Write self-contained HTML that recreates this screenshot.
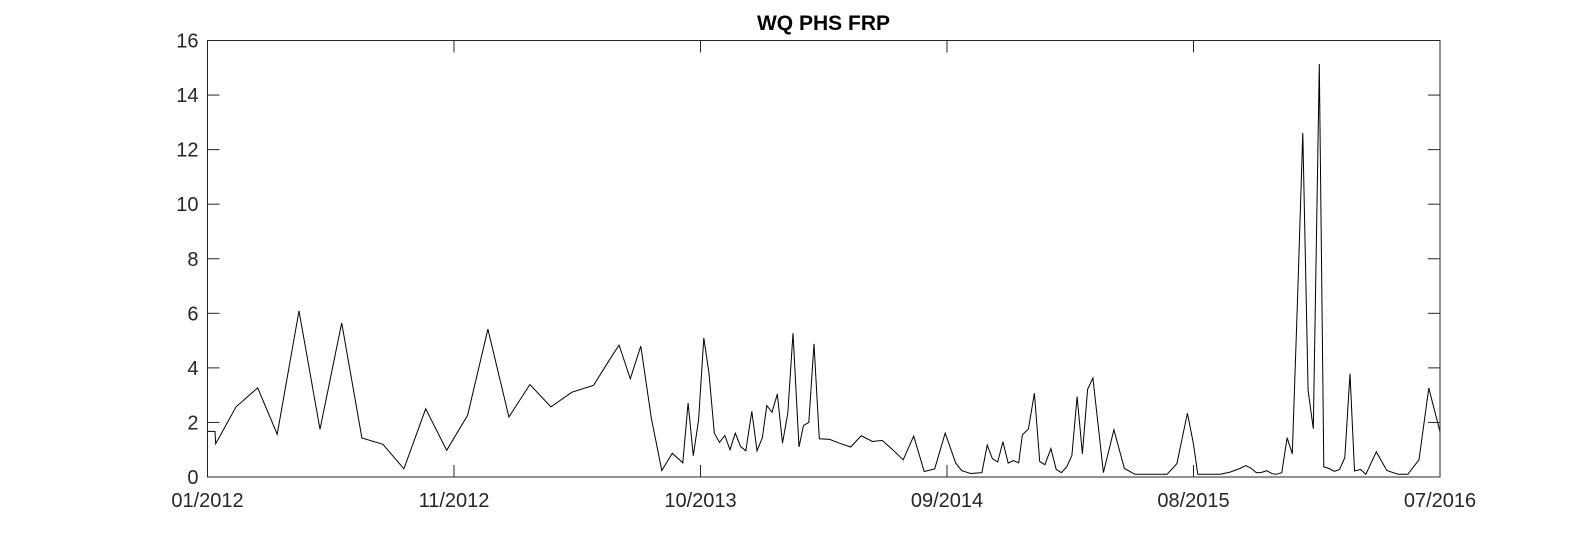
<!DOCTYPE html>
<html><head><meta charset="utf-8"><style>
html,body{margin:0;padding:0;background:#fff;}
svg{display:block;font-family:"Liberation Sans",Arial,sans-serif;}
</style></head><body>
<svg id="chart" width="1591" height="535" viewBox="0 0 1591 535" xmlns="http://www.w3.org/2000/svg">
<text x="823.5" y="30" text-anchor="middle" font-size="21" font-weight="bold" fill="#000">WQ PHS FRP</text>
<g id="ticks"></g>
<path id="series" fill="none" stroke="#000" stroke-width="1"/>
<rect x="207.5" y="40.5" width="1232.5" height="436.5" fill="none" stroke="#262626" stroke-width="1"/>
</svg>
<script>
// days since 01/2012
const days = [0,10,11,38,67,93,122,150,179,206,234,262,291,319,347,374,402,430,458,486,515,540,549,564,578,592,606,620,634,641,648,655,662,669,676,683,690,697,704,711,718,726,733,740,746,753,760,767,774,781,789,795,802,809,816,830,843,858,872,887,900,914,928,942,956,970,984,998,1006,1018,1033,1040,1047,1054,1061,1068,1075,1082,1087,1095,1103,1110,1117,1125,1132,1139,1146,1153,1160,1167,1174,1181,1195,1209,1223,1237,1280,1293,1307,1315,1321,1351,1364,1377,1385,1392,1399,1405,1413,1420,1426,1433,1440,1447,1454,1461,1468,1475,1483,1489,1496,1503,1510,1517,1524,1530,1538,1545,1559,1573,1588,1601,1616,1629,1644];
const frp = [1.67,1.67,1.22,2.57,3.27,1.57,6.09,1.75,5.65,1.43,1.2,0.3,2.5,0.98,2.26,5.42,2.2,3.39,2.57,3.11,3.36,4.46,4.83,3.6,4.8,2.16,0.24,0.87,0.52,2.71,0.78,2.1,5.1,3.8,1.61,1.27,1.52,1.0,1.61,1.12,0.96,2.41,0.96,1.43,2.62,2.37,3.04,1.24,2.34,5.27,1.1,1.89,2.0,4.88,1.4,1.38,1.24,1.1,1.51,1.3,1.34,1.0,0.63,1.5,0.2,0.3,1.61,0.51,0.23,0.13,0.16,1.17,0.67,0.55,1.29,0.51,0.6,0.52,1.55,1.76,3.07,0.57,0.45,1.04,0.28,0.16,0.37,0.79,2.95,0.85,3.21,3.63,0.16,1.73,0.31,0.1,0.1,0.49,2.34,1.22,0.1,0.1,0.18,0.31,0.42,0.32,0.16,0.16,0.23,0.12,0.1,0.16,1.44,0.85,6.59,12.61,3.17,1.77,15.14,0.37,0.31,0.21,0.27,0.71,3.79,0.22,0.28,0.1,0.92,0.24,0.1,0.1,0.63,3.26,1.66];
const xTickLabels = ["01/2012","11/2012","10/2013","09/2014","08/2015","07/2016"];
const yTicks = [0,2,4,6,8,10,12,14,16];

const L=207.5,R=1440,T=40.5,B=477,D0=0,D1=1644;
const xs = d => L + (d-D0)/(D1-D0)*(R-L);
const ys = v => B - v/16*(B-T);
const NS="http://www.w3.org/2000/svg";
const g=document.getElementById('ticks');
function mk(tag,attrs){const e=document.createElementNS(NS,tag);for(const k in attrs)e.setAttribute(k,attrs[k]);return e;}
yTicks.forEach(v=>{
  const y=ys(v);
  const t1=mk('line',{x1:L,x2:L+12,y1:y,y2:y,stroke:'#262626'});
  
  
  g.appendChild(t1);
  const t2=mk('line',{x1:R-12,x2:R,y1:y,y2:y,stroke:'#262626'});
  
  
  g.appendChild(t2);
  const tx=mk('text',{x:L-9,y:y+7,'text-anchor':'end','font-size':'20',fill:'#262626'});
  
  
  tx.textContent=v;g.appendChild(tx);
});
xTickLabels.forEach((lab,i)=>{
  const x=xs(D0+i*(D1-D0)/(xTickLabels.length-1));
  const t1=mk('line',{x1:x,x2:x,y1:B,y2:B-12,stroke:'#262626'});
  
  
  g.appendChild(t1);
  const t2=mk('line',{x1:x,x2:x,y1:T,y2:T+12,stroke:'#262626'});
  
  
  g.appendChild(t2);
  const tx=mk('text',{x:x,y:B+30,'text-anchor':'middle','font-size':'20',fill:'#262626'});
  
  
  tx.textContent=lab;g.appendChild(tx);
});
document.getElementById('series').setAttribute('d',days.map((d,i)=>(i?'L':'M')+xs(d).toFixed(1)+' '+ys(frp[i]).toFixed(1)).join(' '));
</script>
</body></html>
